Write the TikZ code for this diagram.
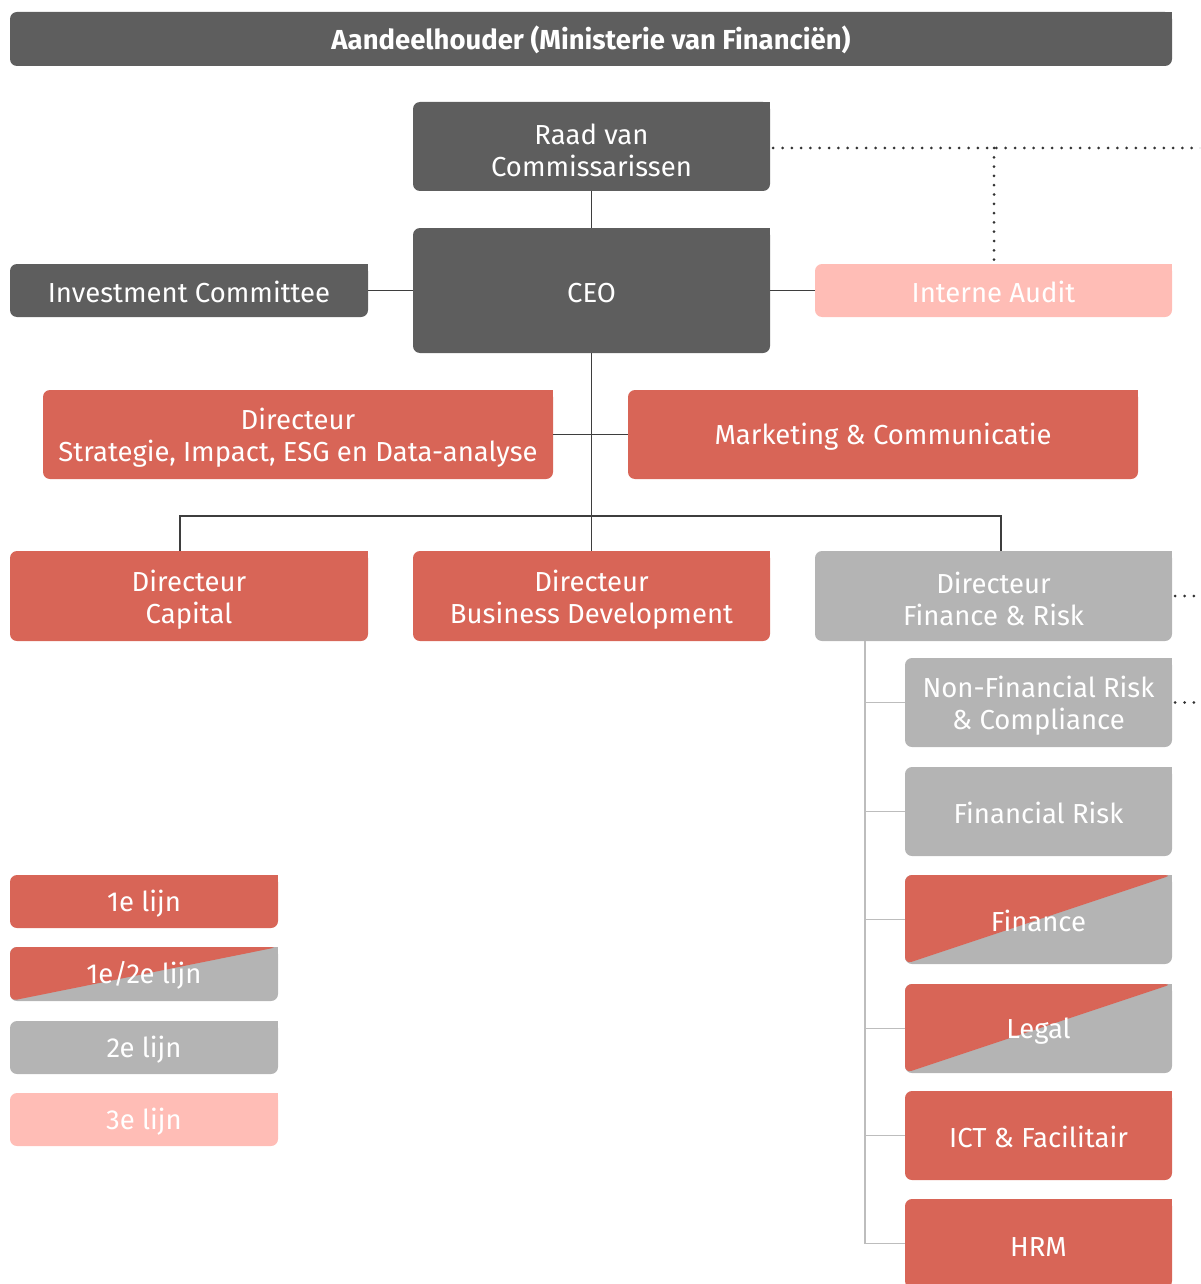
\documentclass[tikz,border=0pt]{standalone}
\usepackage{fontspec}
\setmainfont{Fira Sans}
\definecolor{cDark}{HTML}{5E5E5E}
\definecolor{cRed}{HTML}{D86557}
\definecolor{cGray}{HTML}{B4B4B4}
\definecolor{cPink}{HTML}{FFBDB6}
\definecolor{cLine}{HTML}{3E3E3E}
\definecolor{cDot}{HTML}{333333}
\definecolor{cLineG}{HTML}{BDBDBD}
\tikzset{
  base/.style={rectangle, rounded corners=7pt, inner sep=0pt, text=white, align=center,
    font=\fontsize{27.5}{32}\selectfont, execute at begin node={\rule{0pt}{25pt}}},
  ml/.style={execute at begin node={\rule{0pt}{60pt}}},
  sharpne/.style={append after command={\pgfextra{\fill[#1] ([shift={(-10pt,-10pt)}]\tikzlastnode.north east) rectangle (\tikzlastnode.north east);}}},
  dk/.style={base, fill=cDark, sharpne=cDark},
  rd/.style={base, fill=cRed, sharpne=cRed},
  gr/.style={base, fill=cGray, sharpne=cGray},
  pk/.style={base, fill=cPink, sharpne=cPink},
  split/.style={base, fill=cGray, sharpne=cGray,
    path picture={\fill[cRed] (path picture bounding box.north west) -- (path picture bounding box.north east) -- (path picture bounding box.south west) -- cycle;}},
  sz/.style 2 args={minimum width=#1pt, minimum height=#2pt},
  ln/.style={draw=cLine, line width=1.5pt},
  gl/.style={draw=cLineG, line width=1.5pt},
  dotline/.style={draw=cDot, line width=3pt, line cap=round, dash pattern=on 0pt off 9.3pt},
}
\begin{document}
\begin{tikzpicture}[x=1pt,y=-1pt]
\useasboundingbox (0,0) rectangle (1200,1284);
\clip (0,0) rectangle (1200,1284);
% nodes
\node[dk, sz={1162}{54}, font=\fontsize{27.5}{32}\selectfont\bfseries] (top) at (591,39) {Aandeelhouder (Ministerie van Financiën)};
\node[dk, ml, sz={357}{89}] (raad) at (591.5,146.5) {Raad van\\Commissarissen};
\node[dk, sz={357}{125}] (ceo) at (591.5,290.5) {CEO};
\node[dk, sz={358}{53}] (ic) at (189,290.5) {Investment Committee};
\node[pk, sz={357}{53}] (ia) at (993.5,290.5) {Interne Audit};
\node[rd, ml, sz={510}{89}] (strat) at (298,434.5) {Directeur\\Strategie, Impact, ESG en Data-analyse};
\node[rd, sz={510}{89}] (mark) at (883,434.5) {Marketing \& Communicatie};
\node[rd, ml, sz={358}{90}] (cap) at (189,596) {Directeur\\Capital};
\node[rd, ml, sz={357}{90}] (bd) at (591.5,596) {Directeur\\Business Development};
\node[gr, ml, sz={357}{90}] (fr) at (993.5,596) {Directeur\\Finance \& Risk};
\node[gr, ml, sz={267}{89}] (nfr) at (1038.5,702.5) {Non-Financial Risk\\\& Compliance};
\node[gr, sz={267}{89}] (frisk) at (1038.5,811.5) {Financial Risk};
\node[split, sz={267}{89}] (fin) at (1038.5,919.5) {Finance};
\node[split, sz={267}{89}] (legal) at (1038.5,1028.5) {Legal};
\node[rd, sz={267}{89}] (ict) at (1038.5,1135.5) {ICT \& Facilitair};
\node[rd, sz={267}{89}] (hrm) at (1038.5,1243.5) {HRM};
% legend
\node[rd, sz={268}{53}] (l1) at (144,901.5) {1e lijn};
\node[split, sz={268}{54}] (l2) at (144,974) {1e/2e lijn};
\node[gr, sz={268}{53}] (l3) at (144,1047.5) {2e lijn};
\node[pk, sz={268}{53}] (l4) at (144,1119.5) {3e lijn};
% solid connectors
\draw[ln] (raad) -- (ceo);
\draw[ln] (ic) -- (ceo);
\draw[ln] (ceo) -- (ia);
\draw[ln] (ceo.south) -- (bd.north);
\draw[ln] (strat.east) -- (mark.west);
\coordinate (jl) at (180,516);
\coordinate (jr) at (1001,516);
\draw[ln] (jl |- cap.north) -- (jl) -- (jr) -- (jr |- fr.north);
% grey tree
\coordinate (sp) at (865,641);
\draw[gl] (sp) |- (hrm.west);
\foreach \n in {nfr,frisk,fin,legal,ict} \draw[gl] (sp |- \n.west) -- (\n.west);
% dotted
\coordinate (e1) at (1212,148);
\coordinate (e2) at (1212,596);
\coordinate (e3) at (1212,702.5);
\coordinate (d1) at (994,148);
\draw[dotline] ([xshift=3pt]raad.east |- d1) -- (e1);
\draw[dotline] (d1) -- (ia.north -| d1);
\draw[dotline] ([xshift=3pt]fr.east) -- (e2);
\draw[dotline] ([xshift=3pt]nfr.east) -- (e3);
\end{tikzpicture}
\end{document}
